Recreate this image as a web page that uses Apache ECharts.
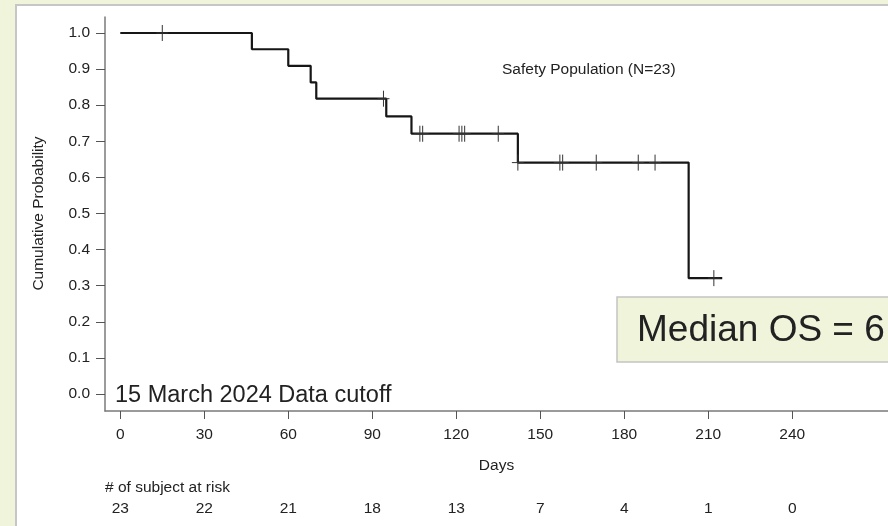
<!DOCTYPE html>
<html>
<head>
<meta charset="utf-8">
<script src="https://cdn.jsdelivr.net/npm/echarts@6/dist/echarts.min.js"></script>
<style>
  html, body { margin: 0; padding: 0; background: #eff4da; }
  #km { width: 888px; height: 526px; }
</style>
</head>
<body>
<div id="km"></div>
<script>
// KM step points (day, cumulative probability)
const eventDays = [0, 47, 60, 68, 70, 95, 104, 142, 203, 215];
const survival = [1.0, 0.955, 0.909, 0.863, 0.818, 0.769, 0.721, 0.641, 0.321, 0.321];

// censored subjects
const censorDays = [15, 94, 107, 108, 121, 122, 123, 135, 142, 157, 158, 170, 185, 191, 212];
const censorSurv = [1.0, 0.818, 0.721, 0.721, 0.721, 0.721, 0.721, 0.721, 0.641, 0.641, 0.641, 0.641, 0.641, 0.641, 0.321];

// axis ticks
const dayTicks = [0, 30, 60, 90, 120, 150, 180, 210, 240];
const probTicks = [0, 0.1, 0.2, 0.3, 0.4, 0.5, 0.6, 0.7, 0.8, 0.9, 1.0];

// number at risk
const riskDays = [0, 30, 60, 90, 120, 150, 180, 210, 240];
const atRisk = [23, 22, 21, 18, 13, 7, 4, 1, 0];

const FONT = "Liberation Sans, Arial, sans-serif";
const myChart = echarts.init(document.getElementById("km"));

let curve = eventDays.map((d, i) => [d, survival[i]]);
let censored = censorDays.map((d, i) => [d, censorSurv[i]]);

let option = {
  animation: false,
  backgroundColor: "#eff4da",
  textStyle: { fontFamily: FONT },
  grid: { left: 105, right: 0, top: 17, bottom: 115 },
  xAxis: {
    type: "value",
    min: -5.46,
    max: 274.2,
    name: "Days",
    nameLocation: "middle",
    nameGap: 47,
    nameTextStyle: { fontSize: 15.5, color: "#222", fontFamily: FONT },
    splitLine: { show: false },
    axisLine: { show: true, onZero: false, lineStyle: { color: "#7a7a7a", width: 1.5 } },
    axisTick: { show: true, length: 8, lineStyle: { color: "#555" }, customValues: dayTicks },
    axisLabel: { customValues: dayTicks, margin: 16, fontSize: 15.5, color: "#222", fontFamily: FONT }
  },
  yAxis: {
    type: "value",
    min: -0.047,
    max: 1.0443,
    splitLine: { show: false },
    axisLine: { show: true, onZero: false, lineStyle: { color: "#7a7a7a", width: 1.5 } },
    axisTick: { show: true, length: 9, lineStyle: { color: "#555" }, customValues: probTicks },
    axisLabel: {
      customValues: probTicks,
      margin: 15,
      fontSize: 15.5,
      color: "#222",
      fontFamily: FONT,
      formatter: v => v.toFixed(1)
    }
  },
  graphic: [
    {
      type: "rect",
      z: -10,
      silent: true,
      shape: { x: 16, y: 5, width: 900, height: 600 },
      style: { fill: "#fff", stroke: "#c6c6c6", lineWidth: 2 }
    },
    {
      // y axis title
      type: "text",
      x: 39,
      y: 213.5,
      rotation: Math.PI / 2,
      style: {
        text: "Cumulative Probability",
        fontSize: 15.5,
        fill: "#222",
        fontFamily: FONT,
        align: "center",
        verticalAlign: "middle"
      }
    },
    {
      type: "text",
      left: 502,
      top: 62,
      style: { text: "Safety Population (N=23)", fontSize: 15.5, fill: "#222", fontFamily: FONT }
    },
    {
      type: "text",
      left: 115,
      top: 384,
      style: { text: "15 March 2024 Data cutoff", fontSize: 23.5, fill: "#222", fontFamily: FONT }
    },
    {
      type: "rect",
      shape: { x: 617, y: 297, width: 320, height: 65 },
      style: { fill: "#eff4da", stroke: "#c3c3c3", lineWidth: 1.5 }
    },
    {
      type: "text",
      left: 637,
      top: 312,
      style: { text: "Median OS = 6", fontSize: 37, fill: "#222", fontFamily: FONT }
    },
    {
      type: "text",
      left: 105,
      top: 480,
      style: { text: "# of subject at risk", fontSize: 15.5, fill: "#222", fontFamily: FONT }
    }
  ],
  series: [
    {
      type: "line",
      step: "end",
      symbol: "none",
      data: curve,
      lineStyle: { color: "#161616", width: 2.2 },
      z: 3
    },
    {
      type: "custom",
      data: censored,
      z: 4,
      renderItem: function (params, api) {
        let p = api.coord([api.value(0), api.value(1)]);
        return {
          type: "group",
          children: [
            {
              type: "line",
              shape: { x1: p[0], y1: p[1] - 8, x2: p[0], y2: p[1] + 8 },
              style: { stroke: "#333", lineWidth: 1 }
            },
            {
              type: "line",
              shape: { x1: p[0] - 6, y1: p[1], x2: p[0] + 6, y2: p[1] },
              style: { stroke: "#333", lineWidth: 1 }
            }
          ]
        };
      }
    }
  ]
};
myChart.setOption(option);

// number-at-risk row placed through the x scale
let riskLabels = riskDays.map((d, i) => {
  let x = myChart.convertToPixel({ xAxisIndex: 0 }, d);
  return {
    type: "text",
    x: x,
    y: 509,
    style: {
      text: String(atRisk[i]),
      fontSize: 15.5,
      fill: "#222",
      fontFamily: FONT,
      align: "center",
      verticalAlign: "middle"
    }
  };
});
myChart.setOption({ graphic: option.graphic.concat(riskLabels) });
</script>
</body>
</html>
